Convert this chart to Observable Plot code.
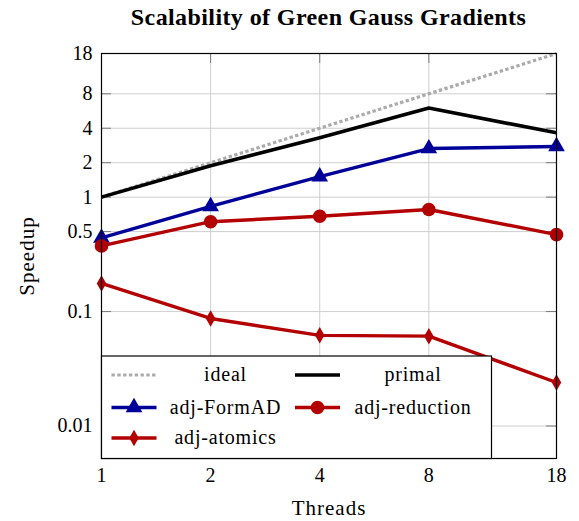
<!DOCTYPE html>
<html>
<head>
<meta charset="utf-8">
<script src="https://cdn.jsdelivr.net/npm/d3@7"></script>
<script src="https://cdn.jsdelivr.net/npm/@observablehq/plot@0.6"></script>
<style>
  html, body { margin: 0; padding: 0; background: #fff; }
  #wrap { position: relative; width: 579px; height: 521px; font-family: "Liberation Serif", serif; }
  #title { position: absolute; left: 80px; width: 497px; top: 2px; text-align: center; font-weight: bold; font-size: 24px; letter-spacing: 0.4px; line-height: 30px; color: #000; font-family: "Liberation Serif", serif; }
  #chart { position: absolute; left: 0; top: 38px; }
  #legend { position: absolute; left: 0; top: 0; pointer-events: none; }
</style>
</head>
<body>
<div id="wrap">
  <div id="title">Scalability of Green Gauss Gradients</div>
  <div id="chart"></div>
</div>
<script>
// ---- data ----
const threads   = [1, 2, 4, 8, 18];
const ideal     = [1, 2, 4, 8, 18];
const primal    = [1, 1.88, 3.3, 6.0, 3.65];
const formAD    = [0.44, 0.83, 1.51, 2.66, 2.77];
const reduction = [0.375, 0.61, 0.68, 0.78, 0.47];
const atomics   = [0.176, 0.087, 0.062, 0.061, 0.024];
const yTicks = [0.01, 0.1, 0.5, 1, 2, 4, 8, 18];
const xTicks = [1, 2, 4, 8, 18];
const seriesNames = ["ideal", "primal", "adj-FormAD", "adj-reduction", "adj-atomics"];

const BLUE = "#000099", RED = "#b30000", GRAY = "#ababab";
const FONT = "\"Liberation Serif\", serif";

const rows = (vals) => threads.map((t, i) => ({t, v: vals[i]}));

const W = 579, H = 483, ML = 101, MR = 23, MT = 15, MB = 63;
const PW = W - ML - MR, PH = H - MT - MB;
const TICK = 10;

const plot = Plot.plot({
  width: W,
  height: H,
  marginTop: MT,
  marginBottom: MB,
  marginLeft: ML,
  marginRight: MR,
  style: {fontFamily: FONT, fontSize: "20px", color: "#000", background: "white", overflow: "visible"},
  x: {type: "log", domain: [1, 18], axis: null},
  y: {type: "log", domain: [0.0052, 18], axis: null},
  marks: [
    // grid
    Plot.ruleX(xTicks, {x: d => d, stroke: "#cfcfcf", strokeWidth: 1}),
    Plot.ruleY(yTicks, {y: d => d, stroke: "#cfcfcf", strokeWidth: 1}),
    // inner tick marks
    Plot.ruleY(yTicks, {y: d => d, stroke: "#7a7a7a", strokeWidth: 1, insetRight: PW - TICK}),
    Plot.ruleY(yTicks, {y: d => d, stroke: "#7a7a7a", strokeWidth: 1, insetLeft: PW - TICK}),
    Plot.ruleX(xTicks, {x: d => d, stroke: "#7a7a7a", strokeWidth: 1, insetTop: PH - TICK}),
    Plot.ruleX(xTicks, {x: d => d, stroke: "#7a7a7a", strokeWidth: 1, insetBottom: PH - TICK}),
    // tick labels
    Plot.text(xTicks, {x: d => d, text: d => String(d), frameAnchor: "bottom", lineAnchor: "top", dy: 9, fontSize: 20, fontFamily: FONT, fill: "#000"}),
    Plot.text(yTicks, {y: d => d, text: d => String(d), frameAnchor: "left", textAnchor: "end", dx: -9, fontSize: 20, fontFamily: FONT, fill: "#000"}),
    // series
    Plot.line(rows(ideal), {x: "t", y: "v", stroke: GRAY, strokeWidth: 3.2, strokeDasharray: "3.4,2.4", strokeLinecap: "butt", strokeLinejoin: "miter"}),
    Plot.line(rows(primal), {x: "t", y: "v", stroke: "#000", strokeWidth: 3.6, strokeLinecap: "butt"}),
    Plot.line(rows(formAD), {x: "t", y: "v", stroke: BLUE, strokeWidth: 3.4}),
    Plot.dot(rows(formAD), {x: "t", y: "v", symbol: "triangle", r: 6.2, fill: BLUE, stroke: null}),
    Plot.line(rows(reduction), {x: "t", y: "v", stroke: RED, strokeWidth: 3.4}),
    Plot.dot(rows(reduction), {x: "t", y: "v", symbol: "circle", r: 6.8, fill: RED, stroke: null}),
    Plot.line(rows(atomics), {x: "t", y: "v", stroke: RED, strokeWidth: 3.4}),
    Plot.dot(rows(atomics), {x: "t", y: "v", symbol: "diamond", r: 5, fill: RED, stroke: null}),
    Plot.frame({stroke: "#000", strokeWidth: 1.2}),
    // axis titles
    Plot.text(["Speedup"], {text: d => d, frameAnchor: "left", textAnchor: "middle", lineAnchor: "middle", dx: -74, rotate: -90, fontSize: 21, fontFamily: FONT, fill: "#000"}),
    Plot.text(["Threads"], {text: d => d, frameAnchor: "bottom", textAnchor: "middle", lineAnchor: "middle", dy: 50, fontSize: 21, fontFamily: FONT, fill: "#000"})
  ]
});
plot.querySelectorAll("text").forEach(t => {
  const s = t.textContent;
  if (s === "Speedup" || s === "Threads") t.style.letterSpacing = "1px";
});
document.getElementById("chart").appendChild(plot);

// ---- legend (drawn over the chart, white box) ----
const wrap = d3.select("#wrap");
const lg = wrap.append("svg").attr("id", "legend").attr("width", 579).attr("height", 521);
const box = {x: 101.5, y: 356, w: 390, h: 102.5};
lg.append("rect").attr("x", box.x).attr("y", box.y).attr("width", box.w).attr("height", box.h)
  .attr("fill", "white").attr("stroke", "#000").attr("stroke-width", 1.2);
const entries = [
  {name: seriesNames[0], col: 0, row: 0, stroke: GRAY, dash: "3.4,2.4", sym: null, w: 3.2},
  {name: seriesNames[1], col: 1, row: 0, stroke: "#000", dash: null, sym: null, w: 3.6},
  {name: seriesNames[2], col: 0, row: 1, stroke: BLUE, dash: null, sym: d3.symbolTriangle, size: 6.2 * 6.2 * Math.PI, w: 3.4},
  {name: seriesNames[3], col: 1, row: 1, stroke: RED, dash: null, sym: d3.symbolCircle, size: 6.8 * 6.8 * Math.PI, w: 3.4},
  {name: seriesNames[4], col: 0, row: 2, stroke: RED, dash: null, sym: d3.symbolDiamond, size: 5 * 5 * Math.PI, w: 3.4}
];
const colSample = [111.5, 295];
const colText = [225.5, 413];
const rowY = [375, 407.5, 438];
for (const e of entries) {
  const x0 = colSample[e.col], y = rowY[e.row];
  const ln = lg.append("line").attr("x1", x0).attr("x2", x0 + 45).attr("y1", y).attr("y2", y)
    .attr("stroke", e.stroke).attr("stroke-width", e.w);
  if (e.dash) ln.attr("stroke-dasharray", e.dash);
  if (e.sym) lg.append("path").attr("d", d3.symbol(e.sym, e.size)()).attr("transform", `translate(${x0 + 22.5},${y})`).attr("fill", e.stroke);
  lg.append("text").attr("x", colText[e.col]).attr("y", y).attr("dy", "0.32em").attr("text-anchor", "middle")
    .attr("font-family", FONT).attr("font-size", 20).attr("letter-spacing", "0.8px").attr("fill", "#000").text(e.name);
}
</script>
</body>
</html>
